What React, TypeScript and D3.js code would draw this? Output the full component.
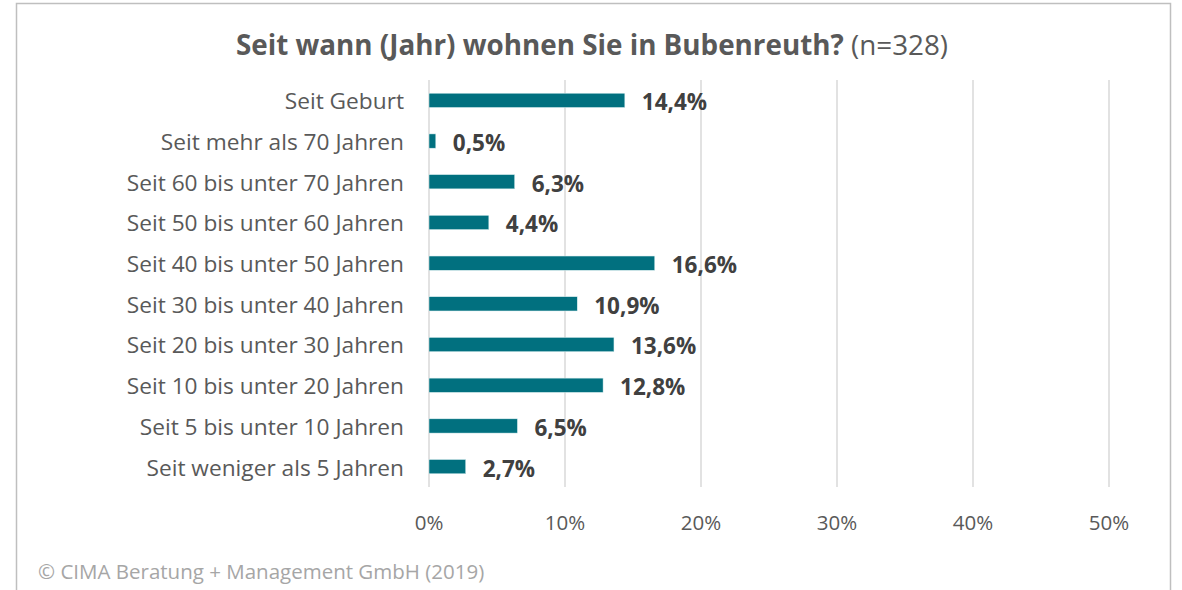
import React from "react";
import * as d3 from "d3";

const categories = [
  "Seit Geburt",
  "Seit mehr als 70 Jahren",
  "Seit 60 bis unter 70 Jahren",
  "Seit 50 bis unter 60 Jahren",
  "Seit 40 bis unter 50 Jahren",
  "Seit 30 bis unter 40 Jahren",
  "Seit 20 bis unter 30 Jahren",
  "Seit 10 bis unter 20 Jahren",
  "Seit 5 bis unter 10 Jahren",
  "Seit weniger als 5 Jahren",
];
const values = [14.4, 0.5, 6.3, 4.4, 16.6, 10.9, 13.6, 12.8, 6.5, 2.7];
const ticks = [0, 10, 20, 30, 40, 50];

const W = 1182;
const H = 590;
const FONT = "'Open Sans', 'Noto Sans', sans-serif";

export default function App() {
  const x = d3.scaleLinear().domain([0, 50]).range([429, 1109]);
  const y = d3.scaleBand<string>().domain(categories).range([80, 487]).paddingInner(0.65).paddingOuter(0.325);
  const fmt = (v: number) => v.toFixed(1).replace(".", ",") + "%";
  return (
    <svg width={W} height={H} style={{ position: "absolute", left: 0, top: 0, background: "#fff" }} fontFamily={FONT}>
      <rect x={16.5} y={3.5} width={1154} height={600} fill="#fff" stroke="#bfbfbf" strokeWidth={1.5} />
      <text x={592} y={55} textAnchor="middle" fontSize={27.8} fill="#595959">
        <tspan fontWeight="bold">Seit wann (Jahr) wohnen Sie in Bubenreuth?</tspan>
        <tspan> (n=328)</tspan>
      </text>
      {ticks.map((t) => (
        <g key={t}>
          <line x1={x(t)} x2={x(t)} y1={80} y2={487} stroke="#d9d9d9" strokeWidth={1.5} />
          <text x={x(t)} y={530} textAnchor="middle" fontSize={20.5} fill="#595959">
            {t}%
          </text>
        </g>
      ))}
      {categories.map((c, i) => {
        const yc = (y(c) as number) + y.bandwidth() / 2;
        return (
          <g key={c}>
            <rect x={x(0)} y={y(c)} width={x(values[i]) - x(0)} height={y.bandwidth()} fill="#01707f" stroke="#d9eef0" strokeWidth={0.5} />
            <text x={404} y={yc + 1} dy="0.35em" textAnchor="end" fontSize={22.7} fill="#595959">
              {c}
            </text>
            <text x={x(values[i]) + 17} y={yc + 2} dy="0.35em" fontSize={22.5} fontWeight="bold" fill="#404040">
              {fmt(values[i])}
            </text>
          </g>
        );
      })}
      <text x={38} y={579} fontSize={20.5} fill="#a6a6a6">
        © CIMA Beratung + Management GmbH (2019)
      </text>
    </svg>
  );
}
